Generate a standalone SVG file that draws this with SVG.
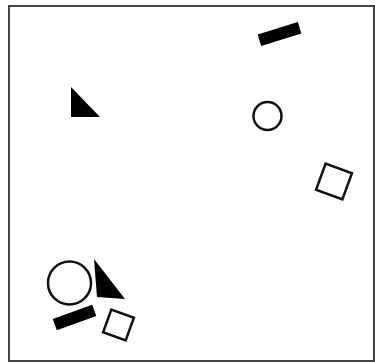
<svg xmlns="http://www.w3.org/2000/svg" width="375" height="363" viewBox="0 0 375 363">
<style>
.frame{fill:#fff;stroke:#444;stroke-width:2}
.solid{fill:#000;stroke:none}
.hollow{fill:none;stroke:#111;stroke-width:2.5}
</style>
<rect class="frame" x="9" y="6" width="365" height="355"/>
<g id="rect-top"><rect class="solid" x="-21" y="-6" width="42" height="12" transform="translate(279.5 34) rotate(-17)"/></g>
<g id="tri-top"><polygon class="solid" points="71,87 71,117 100,117"/></g>
<g id="circle-top"><circle class="hollow" cx="267.5" cy="116" r="14"/></g>
<g id="square-right"><rect class="hollow" x="-14" y="-14" width="28" height="28" transform="translate(334 181.5) rotate(20)"/></g>
<g id="circle-bottom"><circle class="hollow" cx="69.5" cy="283" r="21.5"/></g>
<g id="tri-bottom"><polygon class="solid" points="94,259 97,297 125,299"/></g>
<g id="rect-bottom"><rect class="solid" x="-21" y="-6" width="42" height="12" transform="translate(74.5 317.5) rotate(-20)"/></g>
<g id="square-bottom"><rect class="hollow" x="-12" y="-12" width="24" height="24" transform="translate(118.5 325) rotate(20)"/></g>
</svg>
